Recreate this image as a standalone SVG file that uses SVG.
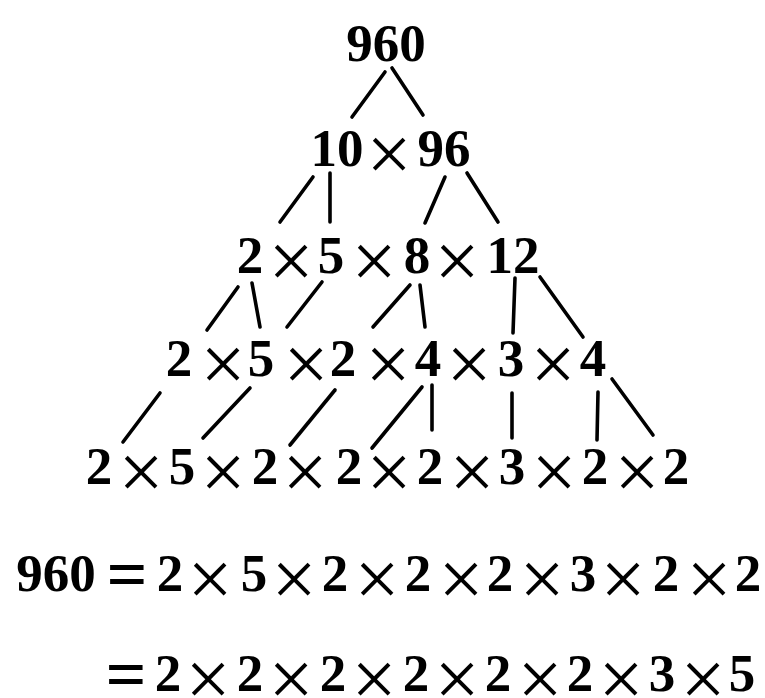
<svg xmlns="http://www.w3.org/2000/svg" width="765" height="698" viewBox="0 0 765 698">
<style>
text{font-family:"Liberation Serif","Times New Roman",serif;font-weight:bold;font-size:53px;fill:#000;text-anchor:middle}
.m{font-size:80px;font-weight:normal}
.e{font-size:72px;font-weight:bold}
#connectors line{stroke:#000;stroke-width:3.6;stroke-linecap:round}
</style>
<rect width="765" height="698" fill="#fff"/>
<g id="connectors">
<line x1="385" y1="72" x2="352" y2="117"/>
<line x1="392" y1="68" x2="423" y2="115"/>
<line x1="313" y1="177" x2="280" y2="222"/>
<line x1="330" y1="173" x2="330" y2="222"/>
<line x1="445" y1="177" x2="425" y2="223"/>
<line x1="467" y1="173" x2="498" y2="222"/>
<line x1="238" y1="287" x2="207" y2="330"/>
<line x1="252" y1="283" x2="260" y2="327"/>
<line x1="322" y1="282" x2="287" y2="327"/>
<line x1="410" y1="285" x2="373" y2="327"/>
<line x1="420" y1="285" x2="425" y2="327"/>
<line x1="515" y1="278" x2="513" y2="333"/>
<line x1="540" y1="277" x2="583" y2="337"/>
<line x1="160" y1="393" x2="123" y2="442"/>
<line x1="250" y1="388" x2="203" y2="438"/>
<line x1="335" y1="390" x2="290" y2="445"/>
<line x1="422" y1="387" x2="372" y2="448"/>
<line x1="432" y1="385" x2="432" y2="430"/>
<line x1="512" y1="393" x2="512" y2="438"/>
<line x1="598" y1="392" x2="597" y2="440"/>
<line x1="612" y1="379" x2="653" y2="435"/>
</g>
<g id="n960"><text x="386" y="61">960</text></g>
<g id="n10x96"><text y="166"><tspan x="337">10</tspan><tspan class="m" x="389" y="181">×</tspan><tspan x="444" y="166">96</tspan></text></g>
<g id="n2x5x8x12"><text y="273"><tspan x="250">2</tspan><tspan class="m" x="291" y="288">×</tspan><tspan x="331" y="273">5</tspan><tspan class="m" x="374" y="288">×</tspan><tspan x="417" y="273">8</tspan><tspan class="m" x="457" y="288">×</tspan><tspan x="513" y="273">12</tspan></text></g>
<g id="n2x5x2x4x3x4"><text y="376"><tspan x="179">2</tspan><tspan class="m" x="223" y="391">×</tspan><tspan x="261" y="376">5</tspan><tspan class="m" x="306" y="391">×</tspan><tspan x="343" y="376">2</tspan><tspan class="m" x="388" y="391">×</tspan><tspan x="428" y="376">4</tspan><tspan class="m" x="469" y="391">×</tspan><tspan x="511" y="376">3</tspan><tspan class="m" x="553" y="391">×</tspan><tspan x="593" y="376">4</tspan></text></g>
<g id="n2x5x2x2x2x3x2x2"><text y="484"><tspan x="99">2</tspan><tspan class="m" x="141" y="499">×</tspan><tspan x="182" y="484">5</tspan><tspan class="m" x="223" y="499">×</tspan><tspan x="265" y="484">2</tspan><tspan class="m" x="305" y="499">×</tspan><tspan x="349" y="484">2</tspan><tspan class="m" x="389" y="499">×</tspan><tspan x="430" y="484">2</tspan><tspan class="m" x="472" y="499">×</tspan><tspan x="512" y="484">3</tspan><tspan class="m" x="554" y="499">×</tspan><tspan x="595" y="484">2</tspan><tspan class="m" x="637" y="499">×</tspan><tspan x="676" y="484">2</tspan></text></g>
<g id="eq1"><text y="591"><tspan x="56">960</tspan><tspan class="e" x="127" y="598">=</tspan><tspan x="170" y="591">2</tspan><tspan class="m" x="210" y="606">×</tspan><tspan x="254" y="591">5</tspan><tspan class="m" x="294" y="606">×</tspan><tspan x="335" y="591">2</tspan><tspan class="m" x="377" y="606">×</tspan><tspan x="418" y="591">2</tspan><tspan class="m" x="461" y="606">×</tspan><tspan x="500" y="591">2</tspan><tspan class="m" x="542" y="606">×</tspan><tspan x="583" y="591">3</tspan><tspan class="m" x="623" y="606">×</tspan><tspan x="666" y="591">2</tspan><tspan class="m" x="709" y="606">×</tspan><tspan x="748" y="591">2</tspan></text></g>
<g id="eq2"><text y="691"><tspan class="e" x="126" y="698">=</tspan><tspan x="168" y="691">2</tspan><tspan class="m" x="208" y="706">×</tspan><tspan x="250" y="691">2</tspan><tspan class="m" x="291" y="706">×</tspan><tspan x="333" y="691">2</tspan><tspan class="m" x="374" y="706">×</tspan><tspan x="416" y="691">2</tspan><tspan class="m" x="457" y="706">×</tspan><tspan x="498" y="691">2</tspan><tspan class="m" x="540" y="706">×</tspan><tspan x="580" y="691">2</tspan><tspan class="m" x="621" y="706">×</tspan><tspan x="662" y="691">3</tspan><tspan class="m" x="703" y="706">×</tspan><tspan x="742" y="691">5</tspan></text></g>
</svg>
